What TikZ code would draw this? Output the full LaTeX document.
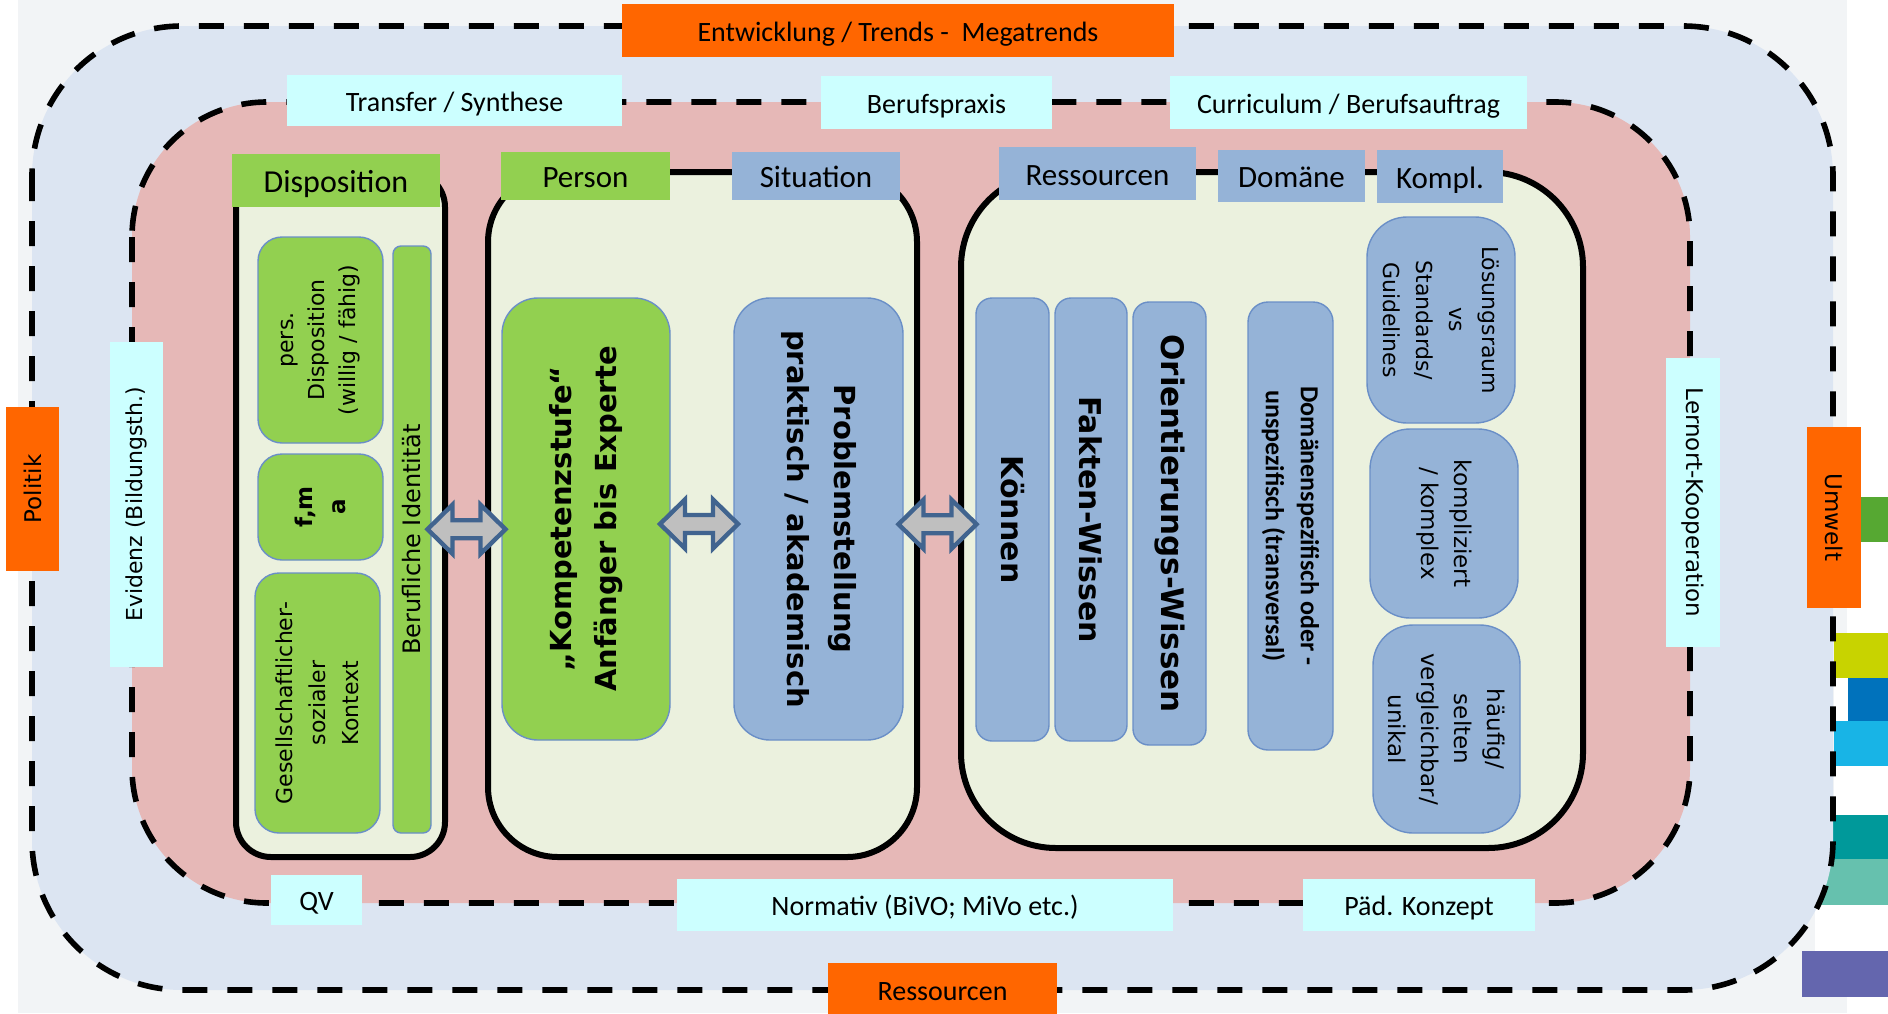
\documentclass[tikz,border=0pt]{standalone}
\usepackage{fontspec}
\setmainfont{Carlito}
\newfontfamily\vfont{DejaVu Sans}
\usetikzlibrary{calc}

\definecolor{bggray}{HTML}{F2F4F6}
\definecolor{outerc}{HTML}{DCE5F2}
\definecolor{pinkc}{HTML}{E6B8B7}
\definecolor{creamc}{HTML}{EBF1DE}
\definecolor{greenc}{HTML}{92D050}
\definecolor{bluec}{HTML}{95B3D7}
\definecolor{cyanc}{HTML}{CCFFFF}
\definecolor{orangec}{HTML}{FF6600}
\definecolor{edgec}{HTML}{6A8FC7}
\definecolor{arrfill}{HTML}{BFBFBF}
\definecolor{arredge}{HTML}{41648F}
\definecolor{stripgreen}{HTML}{56A832}
\definecolor{striplime}{HTML}{C8D300}
\definecolor{stripblue}{HTML}{0072BC}
\definecolor{stripcyan}{HTML}{18B4E6}
\definecolor{stripteal}{HTML}{00999A}
\definecolor{stripmint}{HTML}{66C1AE}
\definecolor{strippurple}{HTML}{6466AE}

\newcommand\fs[2]{\fontsize{#1}{#2}\selectfont}
\newcommand\dblarrow[1]{\draw[blkarrow] (#1) ++(-39,0) -- ++(25,-24.5) -- ++(0,15.5) -- ++(28,0) -- ++(0,-15.5) -- ++(25,24.5) -- ++(-25,24.5) -- ++(0,-15.5) -- ++(-28,0) -- ++(0,15.5) -- cycle;}

\tikzset{
	dashbox/.style={draw=black, line width=2.8pt, dash pattern=on 12.5pt off 10pt},
	cyanlbl/.style={fill=cyanc, inner sep=0pt, font=\fs{14}{16}},
	orangelbl/.style={fill=orangec, inner sep=0pt, font=\fs{14}{16}},
	hline/.style={text height=10.7pt, text depth=0pt},
	hdr/.style={inner sep=0pt, font=\fs{15.5}{18}, text height=11.7pt, text depth=0pt},
	frame/.style={draw=black, line width=3pt, fill=creamc, inner sep=0pt},
	gbox/.style={fill=greenc, draw=edgec, line width=0.7pt, align=center, inner sep=0pt},
	bbox/.style={fill=bluec, draw=edgec, line width=0.7pt, align=center, inner sep=0pt},
	blkarrow/.style={fill=arrfill, draw=arredge, line width=2.2pt, line join=miter},
}

\begin{document}
\begin{tikzpicture}[x=0.5pt,y=-0.5pt]
	\useasboundingbox (0,0) rectangle (1888,1013);
	\fill[bggray] (18,0) rectangle (1847,1013);
	% legend strips at the right edge
	\fill[stripgreen] (1840,497) rectangle (1888,542);
	\fill[striplime] (1834,633) rectangle (1888,678);
	\fill[white] (1834,678) rectangle (1848,721);
	\fill[stripblue] (1848,678) rectangle (1888,721);
	\fill[stripcyan] (1834,721) rectangle (1888,766);
	\fill[white] (1834,766) rectangle (1888,815);
	\fill[stripteal] (1832,815) rectangle (1888,859);
	\fill[stripmint] (1815,859) rectangle (1888,905);
	\fill[white] (1815,905) rectangle (1888,951);
	\fill[strippurple] (1802,951) rectangle (1888,997);

	% outer and inner rings
	\draw[dashbox, fill=outerc, rounded corners=75pt] (32,26) rectangle (1833,990);
	\draw[dashbox, fill=pinkc, rounded corners=67.5pt] (132,102) rectangle (1690,903);

	% frames
	\node[frame, rounded corners=17.5pt, minimum width=104.5pt, minimum height=342.5pt] (dispframe) at (340.5,514.5) {};
	\node[frame, rounded corners=35pt, minimum width=214.5pt, minimum height=342.5pt] (persframe) at (702.5,514.5) {};
	\node[frame, rounded corners=47.5pt, minimum width=311pt, minimum height=338pt] (resframe) at (1272,510) {};

	% ring labels
	\node[orangelbl, hline, minimum width=276pt, minimum height=26.5pt] (trends) at (898,30.5) {Entwicklung / Trends -\ \ Megatrends};
	\node[orangelbl, hline, minimum width=114.5pt, minimum height=26.5pt] (ressbot) at (942.5,989.5) {Ressourcen};
	\node[orangelbl, rotate=90, minimum width=82pt, minimum height=26.5pt, font=\vfont\fs{11.5}{14}] (politik) at (32.5,489) {Politik};
	\node[orangelbl, rotate=-90, minimum width=90.5pt, minimum height=27pt, font=\vfont\fs{11.5}{14}] (umwelt) at (1834,517.5) {Umwelt};
	\node[cyanlbl, hline, minimum width=167.5pt, minimum height=25.5pt] (transfer) at (454.5,100.5) {Transfer / Synthese};
	\node[cyanlbl, hline, minimum width=115.5pt, minimum height=26.5pt] (praxis) at (936.5,102.5) {Berufspraxis};
	\node[cyanlbl, hline, minimum width=178.5pt, minimum height=26.5pt] (curric) at (1348.5,102.5) {Curriculum / Berufsauftrag};
	\node[cyanlbl, rotate=90, minimum width=162.5pt, minimum height=26.5pt, font=\vfont\fs{11}{14}] (evidenz) at (136.5,504.5) {Evidenz (Bildungsth.)};
	\node[cyanlbl, rotate=-90, minimum width=144.5pt, minimum height=27pt, font=\vfont\fs{11.5}{14}] (lernort) at (1693,502.5) {Lernort-Kooperation};
	\node[cyanlbl, hline, minimum width=45.5pt, minimum height=25pt] (qv) at (316.5,900) {QV};
	\node[cyanlbl, hline, minimum width=248pt, minimum height=26pt] (normativ) at (925,905) {Normativ (BiVO; MiVo etc.)};
	\node[cyanlbl, hline, minimum width=116pt, minimum height=26pt] (paed) at (1419,905) {Päd. Konzept};

	% frame headers
	\node[hdr, fill=greenc, minimum width=104pt, minimum height=26.5pt, font=\fs{16}{18}] (disphd) at (336,180.5) {Disposition};
	\node[hdr, fill=greenc, minimum width=84.5pt, minimum height=24pt] (pershd) at (585.5,176) {Person};
	\node[hdr, fill=bluec, minimum width=84pt, minimum height=24pt] (situhd) at (816,176) {Situation};
	\node[hdr, fill=bluec, minimum width=98.5pt, minimum height=26.5pt] (reshd) at (1097.5,173.5) {Ressourcen};
	\node[hdr, fill=bluec, minimum width=73.5pt, minimum height=26pt] (domhd) at (1291.5,176) {Domäne};
	\node[hdr, fill=bluec, minimum width=63pt, minimum height=26.5pt] (komplhd) at (1440,176.5) {Kompl.};

	% Disposition
	\node[gbox, rotate=90, rounded corners=12pt, minimum width=103pt, minimum height=62.5pt, font=\vfont\fs{11}{15.5}] (persdisp) at (320.5,340) {pers.\\Disposition\\(willig / fähig)};
	\node[gbox, rotate=90, rounded corners=12pt, minimum width=53pt, minimum height=62.5pt, font=\vfont\bfseries\fs{11.5}{16.5}] (fma) at (320.5,507) {f,m\\a};
	\node[gbox, rotate=90, rounded corners=12pt, minimum width=130pt, minimum height=62.5pt, font=\vfont\fs{11}{16.5}] (gesell) at (317.5,703) {Gesellschaftlicher-\\sozialer\\Kontext};
	\node[gbox, rotate=90, rounded corners=4pt, minimum width=293.5pt, minimum height=19pt, font=\vfont\fs{12}{14}] (bid) at (412,539.5) {Berufliche Identität};

	% Person / Situation
	\node[gbox, rotate=90, rounded corners=18pt, minimum width=221pt, minimum height=84pt, font=\vfont\bfseries\fs{14.5}{22.5}] (komp) at (586,519) {„Kompetenzstufe“\\Anfänger bis Experte};
	\node[bbox, rotate=-90, rounded corners=18pt, minimum width=221pt, minimum height=84.5pt, font=\vfont\bfseries\fs{14.5}{23.5}] (prob) at (818.5,519) {Problemstellung\\praktisch / akademisch};

	% Ressourcen / Domäne / Kompl.
	\node[bbox, rotate=-90, rounded corners=8pt, minimum width=221.5pt, minimum height=36.5pt, font=\vfont\bfseries\fs{15}{18}] (konnen) at (1012.5,519.5) {Können};
	\node[bbox, rotate=-90, rounded corners=8pt, minimum width=221.5pt, minimum height=36pt, font=\vfont\bfseries\fs{15}{18}] (fakten) at (1091,519.5) {Fakten-Wissen};
	\node[bbox, rotate=-90, rounded corners=8pt, minimum width=221.5pt, minimum height=36.5pt, font=\vfont\bfseries\fs{15.5}{18}] (orient) at (1169.5,523.5) {Orientierungs-Wissen};
	\node[bbox, rotate=-90, rounded corners=10pt, minimum width=224pt, minimum height=42.5pt, font=\bfseries\fs{13}{17.5}] (domsp) at (1290.5,526) {Domänenspezifisch oder -\\unspezifisch (transversal)};
	\node[bbox, rotate=-90, rounded corners=20pt, minimum width=103pt, minimum height=74pt, font=\vfont\fs{11}{16.5}] (loesung) at (1441,320) {Lösungsraum\\vs\\Standards/\\Guidelines};
	\node[bbox, rotate=-90, rounded corners=20pt, minimum width=94.5pt, minimum height=74pt, font=\vfont\fs{11.5}{16.5}] (kompl) at (1444,523.5) {kompliziert\\/ komplex};
	\node[bbox, rotate=-90, rounded corners=20pt, minimum width=104pt, minimum height=73.5pt, font=\vfont\fs{11.5}{16.5}] (haeufig) at (1446.5,729) {häufig/\\selten\\vergleichbar/\\unikal};

	% double arrows between the blocks
	\coordinate (a1) at ($(bid.south)!0.5!(komp.north)$);
	\coordinate (a2) at ($(komp.south)!0.5!(prob.south)+(-3,5)$);
	\coordinate (a3) at ($(prob.north)!0.5!(konnen.south)+(-2,5)$);
	\dblarrow{a1}
	\dblarrow{a2}
	\dblarrow{a3}
\end{tikzpicture}
\end{document}
